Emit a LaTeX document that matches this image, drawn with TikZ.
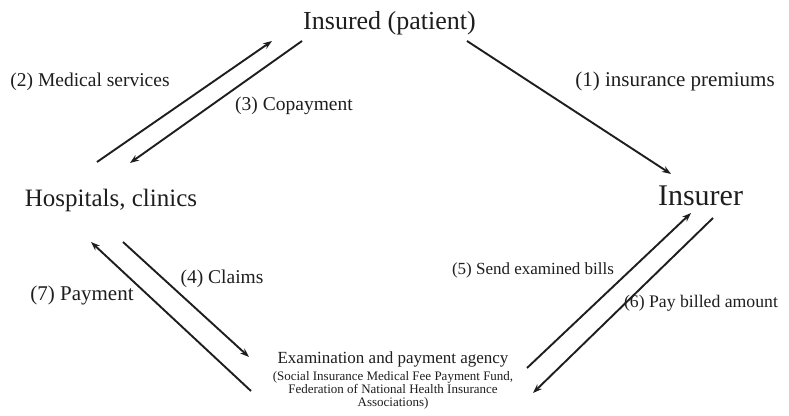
\documentclass[tikz,border=0pt]{standalone}
\usepackage{fontspec}
\setmainfont{Liberation Serif}
\usetikzlibrary{arrows.meta}
\definecolor{ink}{HTML}{1E1E1E}
\begin{document}
\begin{tikzpicture}[x=1pt,y=1pt,
  party/.style={inner sep=0pt,anchor=base,text=ink},
  sub/.style={inner sep=0pt,anchor=base,text=ink,font=\fontsize{13}{13}\selectfont},
  lbl/.style={inner sep=0pt,anchor=base,text=ink,font=\fontsize{#1}{22}\selectfont},
  lbl/.default=19.5,
  flow/.style={draw=ink,line width=1.9pt,-{Stealth[length=9pt,width=6.5pt]}}]
\useasboundingbox (0,0) rectangle (789,415);
\fill[white] (0,0) rectangle (789,415);
% parties
\node[party,font=\fontsize{26}{28}\selectfont] (insured) at (389.5,385) {Insured (patient)};
\node[party,font=\fontsize{25}{28}\selectfont] (hosp) at (111,208) {Hospitals, clinics};
\node[party,font=\fontsize{30}{32}\selectfont] (insurer) at (700.5,209) {Insurer};
\node[party,font=\fontsize{17}{19}\selectfont] (agency) at (393,52) {Examination and payment agency};
\node[sub] (agencysub1) at (393,35) {(Social Insurance Medical Fee Payment Fund,};
\node[sub] (agencysub2) at (393,22) {Federation of National Health Insurance};
\node[sub] (agencysub3) at (393,9) {Associations)};
% labels
\node[lbl=21] (l1) at (675,328) {(1) insurance premiums};
\node[lbl] (l2) at (90,328) {(2) Medical services};
\node[lbl] (l3) at (294,304) {(3) Copayment};
\node[lbl] (l4) at (222,131) {(4) Claims};
\node[lbl=17] (l5) at (533,140) {(5) Send examined bills};
\node[lbl=17.7] (l6) at (701,107) {(6) Pay billed amount};
\node[lbl=21] (l7) at (82,114) {(7) Payment};
% connector end points
\coordinate (p1s) at (467,374); \coordinate (p1e) at (671,241);
\coordinate (p2s) at (97,253);  \coordinate (p2e) at (272,374);
\coordinate (p3s) at (302,374); \coordinate (p3e) at (130,252);
\coordinate (p4s) at (123,173); \coordinate (p4e) at (249,58);
\coordinate (p5s) at (527,47);  \coordinate (p5e) at (691,202);
\coordinate (p6s) at (713,197); \coordinate (p6e) at (533,22);
\coordinate (p7s) at (251,24);  \coordinate (p7e) at (91,173);
% connectors
\draw[flow] (p1s) -- (p1e);
\draw[flow] (p2s) -- (p2e);
\draw[flow] (p3s) -- (p3e);
\draw[flow] (p4s) -- (p4e);
\draw[flow] (p5s) -- (p5e);
\draw[flow] (p6s) -- (p6e);
\draw[flow] (p7s) -- (p7e);
\end{tikzpicture}
\end{document}
